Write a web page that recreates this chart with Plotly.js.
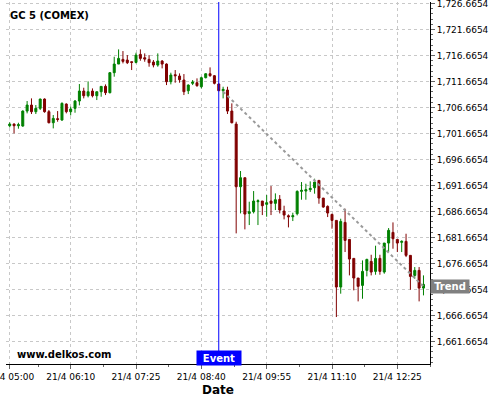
<!DOCTYPE html>
<html>
<head>
<meta charset="utf-8">
<script src="https://cdn.plot.ly/plotly-3.0.1.min.js"></script>
<style>html,body{margin:0;padding:0;background:#fff;}#chart{width:500px;height:400px;}</style>
</head>
<body>
<div id="chart"></div>
<script>
const day = '2020-04-21 ';
const times = [
'05:00','05:05','05:10','05:15','05:20','05:25','05:30','05:35','05:40','05:45','05:50','05:55',
'06:00','06:05','06:10','06:15','06:20','06:25','06:30','06:35','06:40','06:45','06:50','06:55',
'07:00','07:05','07:10','07:15','07:20','07:25','07:30','07:35','07:40','07:45','07:50','07:55',
'08:00','08:05','08:10','08:15','08:20','08:25','08:30','08:35','08:40','08:45','08:50','08:55',
'09:00','09:05','09:10','09:15','09:20','09:25','09:30','09:35','09:40','09:45','09:50','09:55',
'10:00','10:05','10:10','10:15','10:20','10:25','10:30','10:35','10:40','10:45','10:50','10:55',
'11:00','11:05','11:10','11:15','11:20','11:25','11:30','11:35','11:40','11:45','11:50','11:55',
'12:00','12:05','12:10','12:15','12:20','12:25','12:30','12:35','12:40','12:45','12:50','12:55'];

const openV = [
1703.14,1703.46,1703.14,1703.08,1705.96,1707.12,1705.84,1706.48,1708.27,1705.84,1703.72,1704.49,
1704.23,1707.31,1705.84,1706.48,1707.89,1709.81,1708.91,1709.81,1708.91,1709.68,1710.71,1709.49,
1713.34,1715.00,1715.90,1715.77,1715.45,1715.32,1716.86,1716.22,1715.90,1715.39,1714.81,1715.58,
1715.00,1711.61,1712.95,1712.70,1711.93,1709.87,1711.29,1711.41,1710.64,1712.38,1713.14,1712.76,
1711.16,1709.87,1710.00,1705.96,1703.46,1691.41,1693.14,1686.28,1686.61,1688.53,1688.66,1688.02,
1688.66,1688.21,1688.98,1686.73,1685.83,1685.64,1686.22,1690.52,1690.58,1690.84,1691.22,1692.63,
1689.23,1687.63,1686.09,1684.94,1672.12,1684.55,1681.28,1677.63,1673.85,1672.44,1675.32,1677.05,
1675.13,1677.63,1675.00,1680.58,1682.63,1681.28,1680.71,1680.90,1678.21,1674.36,1675.32,1671.92];
const highV = [
1703.79,1703.59,1703.72,1706.09,1707.89,1708.40,1707.12,1708.34,1708.40,1706.16,1705.20,1705.96,
1707.63,1707.44,1706.80,1708.08,1711.16,1710.45,1711.67,1710.32,1709.68,1710.71,1711.09,1713.46,
1716.41,1717.82,1717.50,1716.73,1715.45,1717.18,1717.82,1717.05,1716.73,1715.77,1717.05,1715.77,
1715.13,1713.34,1713.85,1713.21,1713.08,1711.09,1711.93,1712.25,1712.57,1713.21,1714.36,1712.89,
1711.29,1710.64,1710.64,1707.44,1703.91,1694.43,1693.14,1688.53,1690.58,1688.98,1688.66,1689.81,
1691.54,1690.13,1689.81,1687.76,1686.09,1686.41,1690.71,1692.31,1691.99,1692.44,1692.95,1692.63,
1689.23,1687.82,1686.22,1684.94,1685.26,1687.18,1681.28,1677.63,1673.85,1677.24,1677.56,1678.33,
1680.07,1678.33,1680.58,1683.46,1684.55,1681.28,1681.09,1682.37,1678.21,1675.96,1675.96,1674.36];
const lowV = [
1702.82,1701.67,1702.57,1702.95,1705.52,1705.39,1705.39,1706.16,1705.64,1703.59,1702.63,1703.91,
1704.11,1705.52,1705.13,1705.64,1707.05,1708.40,1708.59,1708.59,1708.08,1708.72,1709.04,1709.36,
1712.57,1715.00,1715.13,1715.00,1713.85,1715.13,1715.64,1715.45,1714.49,1714.36,1714.49,1714.17,
1710.96,1711.09,1711.41,1711.41,1709.04,1709.23,1710.96,1710.64,1710.32,1712.25,1712.57,1711.09,
1709.87,1708.40,1705.39,1703.59,1682.44,1686.28,1683.21,1684.04,1686.28,1684.04,1685.96,1685.64,
1685.96,1686.93,1686.28,1685.13,1683.59,1684.81,1685.90,1688.91,1688.91,1690.39,1690.07,1688.14,
1687.37,1685.58,1683.34,1666.35,1670.84,1678.85,1674.36,1671.48,1669.36,1669.87,1674.17,1674.36,
1674.49,1674.49,1674.68,1678.85,1679.49,1678.85,1678.85,1677.88,1671.60,1673.72,1669.36,1670.52];
const closeV = [
1703.46,1703.14,1703.34,1705.96,1707.12,1705.84,1706.48,1708.27,1705.84,1703.72,1704.55,1704.36,
1707.44,1705.84,1706.35,1707.89,1709.81,1708.91,1709.68,1708.91,1709.68,1710.71,1709.49,1713.34,
1715.00,1716.09,1715.52,1715.26,1715.32,1716.73,1716.09,1715.96,1715.26,1714.81,1715.58,1715.00,
1711.61,1712.89,1712.76,1711.99,1709.68,1710.96,1711.54,1710.84,1712.38,1713.14,1712.76,1711.29,
1709.87,1710.13,1705.96,1703.72,1691.41,1693.14,1686.15,1686.61,1688.66,1688.72,1687.76,1688.34,
1688.21,1688.91,1686.93,1685.96,1685.64,1685.83,1690.52,1690.71,1690.84,1691.09,1692.31,1689.23,
1687.50,1686.35,1684.94,1672.12,1684.74,1681.09,1677.50,1673.85,1672.25,1675.13,1677.44,1675.00,
1677.63,1675.13,1680.58,1683.02,1681.41,1680.58,1680.90,1678.21,1674.17,1675.32,1671.92,1672.63];

const xTickTimes = ['05:00','06:10','07:25','08:40','09:55','11:10','12:25'];
const xMinorTimes = ['05:32:30','06:47:30','08:02:30','09:17:30','10:32:30','11:47:30','13:02:30'];
const eventTime = '09:00';
const trendTimes = ['09:05', '12:55'];
const trendValues = [1709.70, 1672.23];
const titleText = 'GC 5 (COMEX)';
const yTicks = {tick0: 1661.6654, dtick: 5};

const font = 'DejaVu Sans';
const xDates = times.map(t => day + t);

const candle = {
  type: 'candlestick',
  x: xDates, open: openV, high: highV, low: lowV, close: closeV,
  increasing: {line: {color: '#008000', width: 1}, fillcolor: '#008000'},
  decreasing: {line: {color: '#800000', width: 1}, fillcolor: '#800000'},
  whiskerwidth: 0,
  hoverinfo: 'skip',
  showlegend: false
};
const trend = {
  type: 'scatter', mode: 'lines',
  x: trendTimes.map(t => day + t), y: trendValues,
  line: {color: '#9a9a9a', width: 2, dash: 'dot'},
  hoverinfo: 'skip', showlegend: false
};

const layout = {
  width: 500, height: 400,
  margin: {l: 6, r: 70, t: 2, b: 36},
  paper_bgcolor: '#fff', plot_bgcolor: '#fff',
  showlegend: false,
  boxgap: 0.35,
  font: {family: font, size: 9, color: '#000'},
  title: {text: '<b>' + titleText + '</b>', x: 0.02, xref: 'container', xanchor: 'left',
          y: 1 - 15.5/400, yref: 'container', yanchor: 'middle',
          font: {family: font, size: 10, color: '#000'}},
  xaxis: {
    type: 'date',
    range: [day + '04:55:45', day + '13:02:30'],
    tickmode: 'array', tickvals: xTickTimes.map(t => day + t),
    tickformat: '%-d/%-m %H:%M',
    ticklabeloverflow: 'allow',
    ticks: 'outside', ticklen: 4, tickcolor: '#666', tickwidth: 1,
    showline: true, linecolor: '#000', linewidth: 1,
    showgrid: true, gridcolor: '#c8c8c8', griddash: 'dot', gridwidth: 1,
    zeroline: false,
    rangeslider: {visible: false},
    minor: {ticks: 'outside', ticklen: 2, tickcolor: '#666', tickmode: 'array',
            tickvals: xMinorTimes.map(t => day + t), showgrid: false},
    tickfont: {family: font, size: 9, color: '#000'},
    title: {text: '<b>Date</b>', font: {family: font, size: 12, color: '#000'}, standoff: 4},
    fixedrange: true
  },
  yaxis: {
    side: 'right',
    range: [1657.32, 1726.935],
    tickmode: 'linear', tick0: yTicks.tick0, dtick: yTicks.dtick,
    tickformat: ',.4f',
    ticklabeloverflow: 'allow',
    ticks: 'outside', ticklen: 4, tickcolor: '#666', tickwidth: 1,
    showline: true, linecolor: '#000', linewidth: 1,
    showgrid: true, gridcolor: '#c8c8c8', griddash: 'dot', gridwidth: 1,
    zeroline: false,
    minor: {ticks: 'outside', ticklen: 2, tickcolor: '#666', dtick: 1, tick0: yTicks.tick0, showgrid: false},
    tickfont: {family: font, size: 9, color: '#000'},
    fixedrange: true
  },
  shapes: [{
    type: 'line', xref: 'x', yref: 'paper',
    x0: day + eventTime, x1: day + eventTime, y0: 0, y1: 1,
    line: {color: '#0000ff', width: 1}
  }],
  annotations: [
    {xref: 'x', yref: 'paper', x: day + eventTime, y: -0.005, xanchor: 'center', yanchor: 'bottom',
     text: '<b>Event</b>', showarrow: false, bgcolor: '#0000ff', borderpad: 1, width: 42, height: 12,
     font: {family: font, size: 10, color: '#fff'}},
    {xref: 'paper', yref: 'y', x: 1, y: trendValues[1], xanchor: 'left', yanchor: 'middle',
     text: '<b>Trend</b>', showarrow: false, bgcolor: '#808080', borderpad: 1, width: 36, height: 11,
     font: {family: font, size: 10, color: '#fff'}},
    {xref: 'paper', yref: 'paper', x: 9/424, y: 10/362, xanchor: 'left', yanchor: 'middle',
     text: '<b>www.delkos.com</b>', showarrow: false,
     font: {family: font, size: 10, color: '#000'}}
  ]
};

Plotly.newPlot('chart', [candle, trend], layout, {staticPlot: true, displayModeBar: false});
</script>
</body>
</html>
